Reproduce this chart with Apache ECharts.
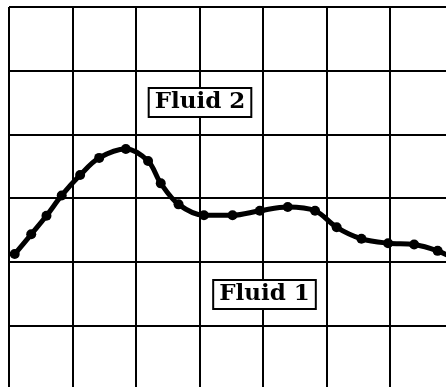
<!DOCTYPE html>
<html>
<head>
<meta charset="utf-8">
<script src="https://cdn.jsdelivr.net/npm/echarts@6/dist/echarts.min.js"></script>
<style>
html,body{margin:0;padding:0;background:#fff;}
#chart{width:446px;height:387px;}
</style>
</head>
<body>
<div id="chart"></div>
<script>
// Data
var xValues = [0.09, 0.35, 0.59, 0.83, 1.12, 1.42, 1.84, 2.19, 2.39, 2.67, 3.07, 3.52, 3.95, 4.39, 4.82, 5.16, 5.55, 5.97, 6.38, 6.75, 7.05];
var yValues = [2.12, 2.43, 2.72, 3.04, 3.36, 3.63, 3.77, 3.58, 3.23, 2.90, 2.73, 2.73, 2.80, 2.86, 2.80, 2.54, 2.36, 2.29, 2.27, 2.17, 2.03];
var markerShown = [1,1,1,1,1,1,1,1,1,1,1,1,1,1,1,1,1,1,1,1,0];
var labelTexts = ['Fluid 2', 'Fluid 1'];

var chart = echarts.init(document.getElementById('chart'), null, {renderer: 'canvas'});
var seriesData = xValues.map(function (x, i) {
  var d = {value: [x, yValues[i]]};
  if (!markerShown[i]) d.symbol = 'none';
  return d;
});
var axisCommon = {
  type: 'value',
  interval: 1,
  axisLabel: {show: false},
  axisTick: {show: false},
  axisLine: {show: false},
  splitLine: {show: true, lineStyle: {color: '#000', width: 2}}
};
var labelFont = 'bold 23px "DejaVu Serif"';
chart.setOption({
  animation: false,
  backgroundColor: '#fff',
  grid: {left: 9, top: 7, width: 444.5, height: 382, containLabel: false, outerBoundsMode: 'none'},
  xAxis: Object.assign({min: 0, max: 7}, axisCommon),
  yAxis: Object.assign({min: 0, max: 6}, axisCommon),
  series: [{
    type: 'line',
    data: seriesData,
    smooth: 0.35,
    symbol: 'circle',
    symbolSize: 10,
    showSymbol: true,
    itemStyle: {color: '#000'},
    lineStyle: {color: '#000', width: 5},
    z: 3
  }],
  graphic: [
    {type: 'text', x: 200, y: 102.5, z: 10,
     style: {text: labelTexts[0], font: labelFont, fill: '#000', align: 'center', verticalAlign: 'middle',
             backgroundColor: '#fff', borderColor: '#000', borderWidth: 2, padding: [3, 5, 1, 5]}},
    {type: 'text', x: 264.5, y: 294.5, z: 10,
     style: {text: labelTexts[1], font: labelFont, fill: '#000', align: 'center', verticalAlign: 'middle',
             backgroundColor: '#fff', borderColor: '#000', borderWidth: 2, padding: [3, 5, 1, 5]}}
  ]
});
</script>
</body>
</html>
